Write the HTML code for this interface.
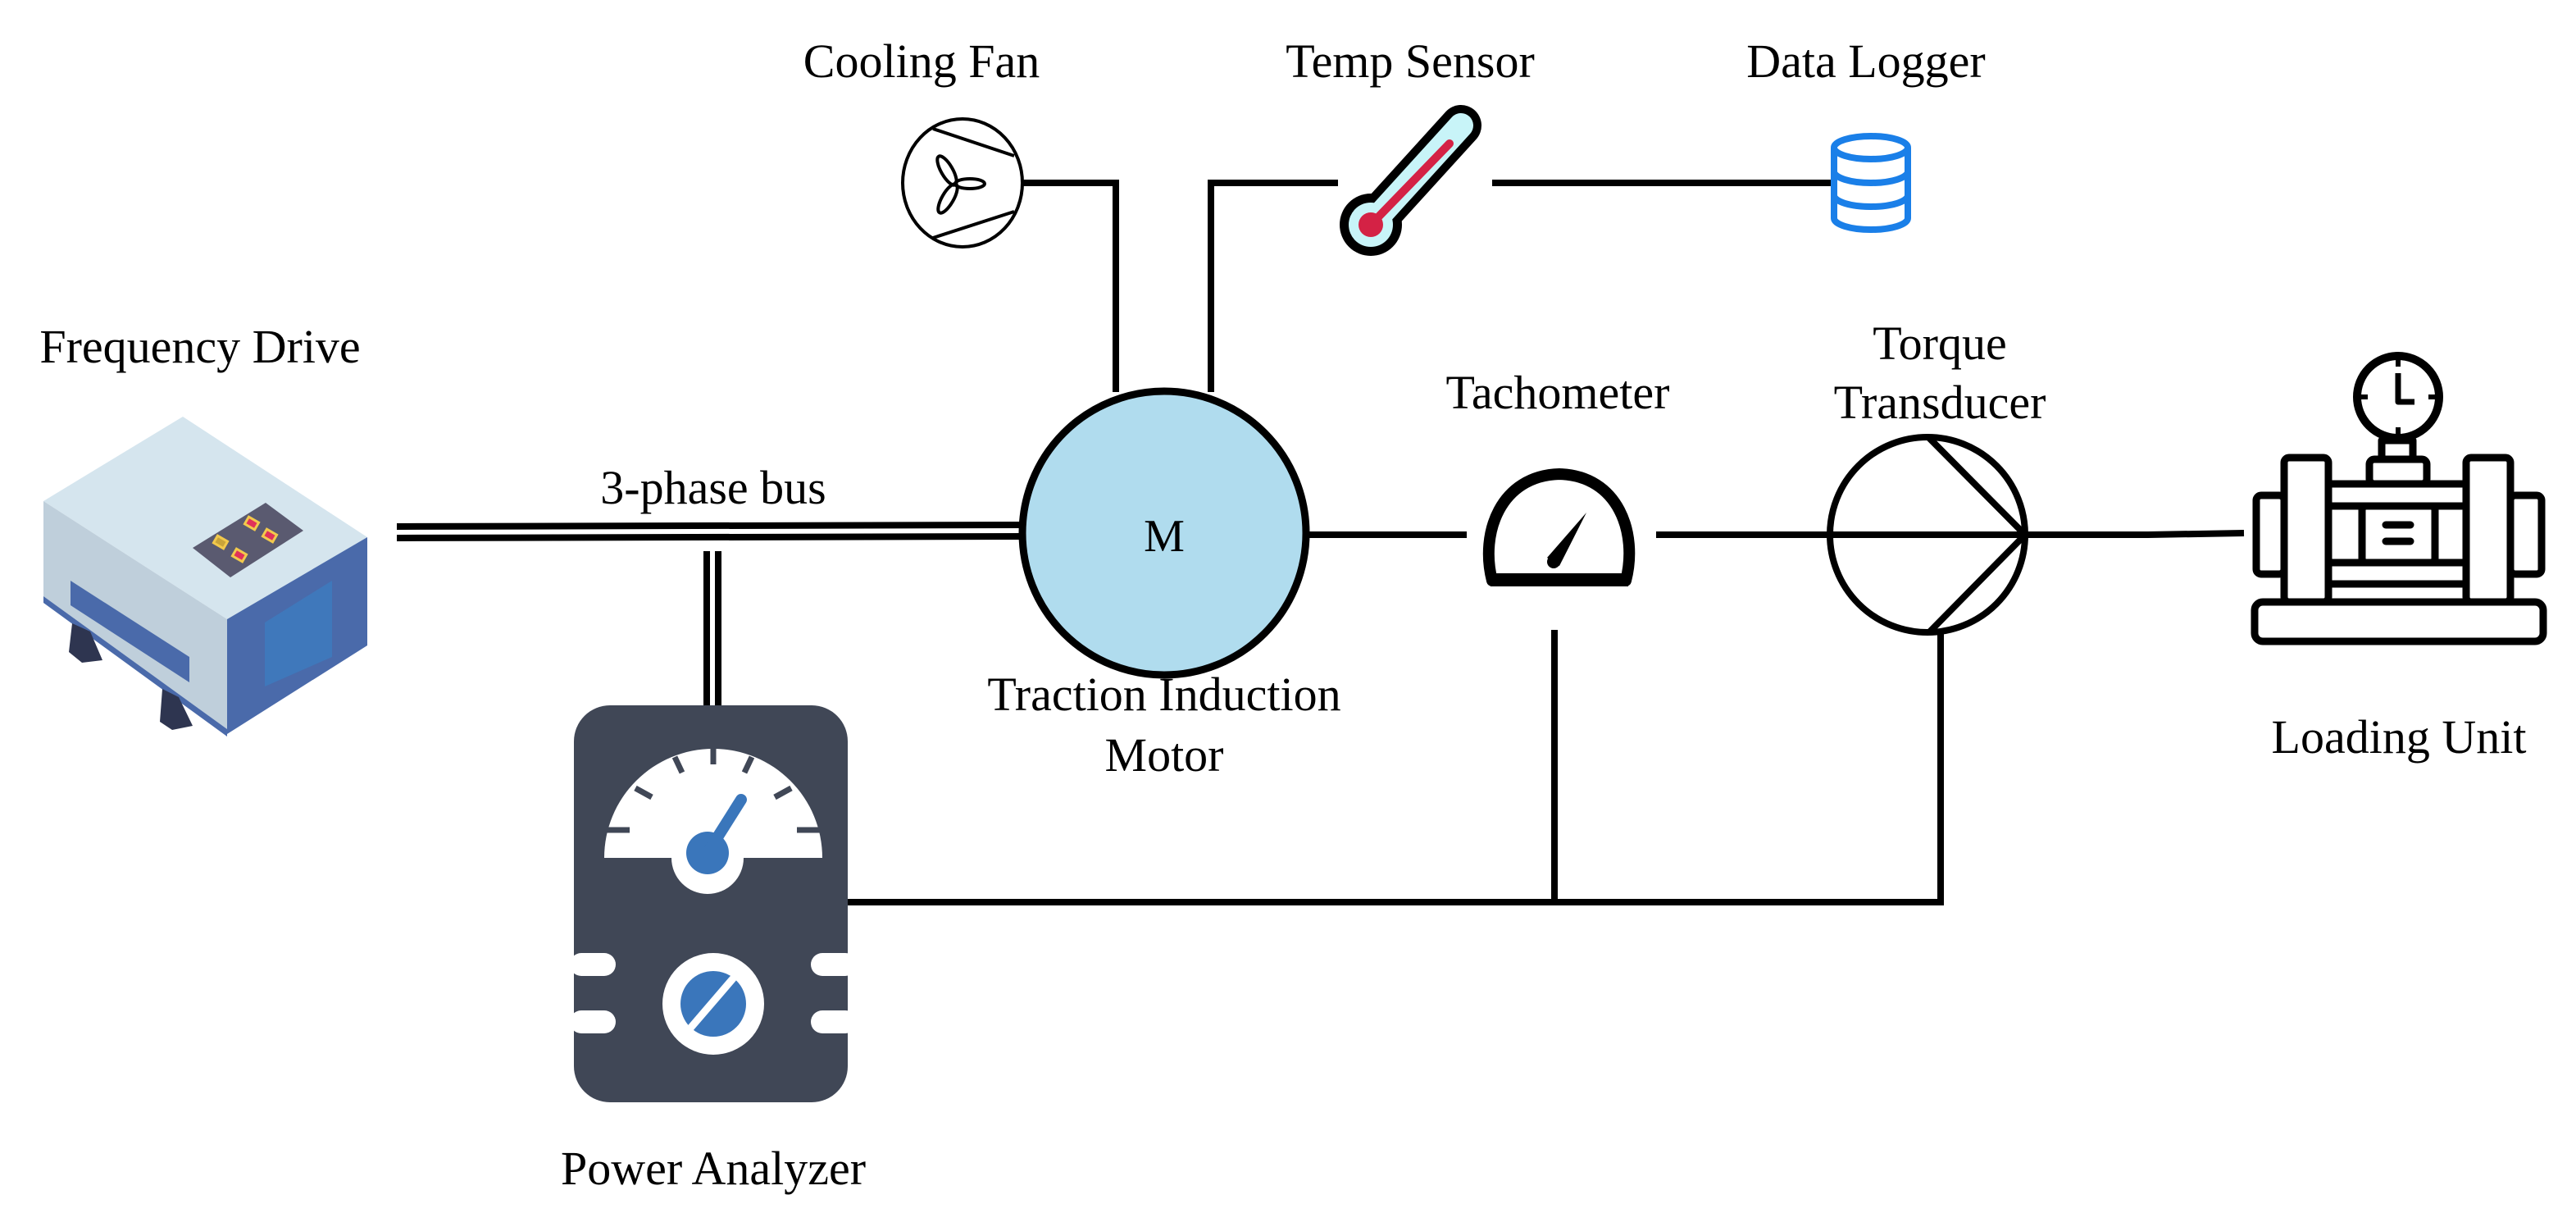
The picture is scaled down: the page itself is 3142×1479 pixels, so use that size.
<!DOCTYPE html>
<html><head><meta charset="utf-8"><style>
html,body{margin:0;padding:0;background:#fff}
svg{display:block}
text{font-family:"Liberation Serif",serif;font-size:58px;fill:#000;text-anchor:middle}
</style></head><body>
<svg width="3142" height="1479" viewBox="0 0 3142 1479" xmlns="http://www.w3.org/2000/svg">
<!-- connectors -->
<g stroke="#000" stroke-width="8" fill="none">
<line x1="484" y1="642" x2="1248" y2="640"/>
<line x1="484" y1="656" x2="1248" y2="654"/>
<line x1="862" y1="672" x2="862" y2="862"/>
<line x1="876" y1="672" x2="876" y2="862"/>
<polyline points="1246,223 1361,223 1361,478"/>
<polyline points="1477,478 1477,223 1632,223"/>
<line x1="1820" y1="223" x2="2236" y2="223"/>
<line x1="1593" y1="652" x2="1789" y2="652"/>
<line x1="2020" y1="652" x2="2470" y2="652"/>
<polyline points="2470,652 2620,652 2737,650"/>
<polyline points="1034,1100 2367,1100 2367,772"/>
<line x1="1896" y1="768" x2="1896" y2="1100"/>
</g>
<!-- motor -->
<circle cx="1420" cy="650" r="173" fill="#b0dcee" stroke="#000" stroke-width="9"/>
<text x="1420" y="672" style="font-size:56px">M</text>
<!-- torque transducer -->
<g stroke="#000" stroke-width="8" fill="none">
<circle cx="2351" cy="652" r="119"/>
<polyline points="2352,533 2470,652 2352,772"/>
</g>
<!-- cooling fan -->
<g stroke="#000" stroke-width="4" fill="none">
<ellipse cx="1174" cy="223" rx="73" ry="78"/>
<line x1="1138" y1="157" x2="1237" y2="190"/>
<line x1="1138" y1="290" x2="1237" y2="258"/>
<ellipse cx="1155" cy="208" rx="7" ry="20" transform="rotate(-30 1155 208)"/>
<ellipse cx="1183" cy="224" rx="18" ry="6"/>
<ellipse cx="1156" cy="242" rx="7" ry="20" transform="rotate(30 1156 242)"/>
</g>
<!-- thermometer -->
<g stroke-linecap="round">
<line x1="1672" y1="274" x2="1782" y2="153" stroke="#000" stroke-width="50"/>
<circle cx="1672" cy="274" r="38" fill="#000"/>
<line x1="1672" y1="274" x2="1782" y2="153" stroke="#c8f4f8" stroke-width="30"/>
<circle cx="1672" cy="274" r="27" fill="#c8f4f8"/>
<circle cx="1672" cy="274" r="15" fill="#d42245"/>
<line x1="1672" y1="274" x2="1768" y2="175" stroke="#d42245" stroke-width="10"/>
</g>
<!-- data logger -->
<g stroke="#1a7fe8" stroke-width="8" fill="none">
<ellipse cx="2282" cy="180" rx="45" ry="14"/>
<path d="M2237 180 V266 A45 14 0 0 0 2327 266 V180"/>
<path d="M2237 209 A45 14 0 0 0 2327 209"/>
<path d="M2237 238 A45 14 0 0 0 2327 238"/>
</g>
<!-- tachometer -->
<path d="M1820 708 C1805 650 1830 580 1902 578 C1974 580 1998 650 1983 708 Z" fill="#fff" stroke="#000" stroke-width="14" stroke-linejoin="round"/>
<line x1="1818" y1="707" x2="1986" y2="707" stroke="#000" stroke-width="16"/>
<path d="M1887 680 L1935 625 L1902 690 Z" fill="#000"/>
<circle cx="1895" cy="685" r="8" fill="#000"/>
<!-- loading unit -->
<g stroke="#000" stroke-width="9" fill="none" stroke-linejoin="round">
<circle cx="2925" cy="484" r="50" stroke-width="10"/>
<polyline points="2925,455 2925,490 2945,490" stroke-width="7"/>
<rect x="2905" y="537" width="38" height="23"/>
<rect x="2890" y="560" width="70" height="30" rx="6"/>
<rect x="2786" y="558" width="54" height="176" rx="6"/>
<rect x="3008" y="558" width="54" height="176" rx="6"/>
<rect x="2752" y="604" width="34" height="96" rx="6"/>
<rect x="3062" y="604" width="38" height="96" rx="6"/>
<line x1="2840" y1="590" x2="3008" y2="590"/>
<line x1="2840" y1="617" x2="3008" y2="617"/>
<line x1="2840" y1="686" x2="3008" y2="686"/>
<line x1="2840" y1="712" x2="3008" y2="712"/>
<rect x="2881" y="617" width="89" height="69" rx="5" fill="#fff"/>
<line x1="2910" y1="640" x2="2940" y2="640" stroke-linecap="round"/>
<line x1="2910" y1="660" x2="2940" y2="660" stroke-linecap="round"/>
<rect x="2750" y="734" width="352" height="48" rx="10"/>
</g>
<g stroke="#000" stroke-width="6">
<line x1="2925" y1="437" x2="2925" y2="447"/><line x1="2925" y1="521" x2="2925" y2="531"/>
<line x1="2878" y1="484" x2="2888" y2="484"/><line x1="2962" y1="484" x2="2972" y2="484"/>
</g>
<!-- frequency drive -->
<polygon points="53,611 223,508 448,655 277,755" fill="#d5e5ee"/>
<polygon points="53,611 277,755 277,889 53,727" fill="#bfcfdb"/>
<polygon points="53,727 277,889 277,898 53,735" fill="#4a6aaa"/>
<polygon points="277,755 448,655 448,787 277,895" fill="#4a6aaa"/>
<polygon points="323,759 405,708 405,801 323,837" fill="#3f78bb"/>
<polygon points="235,668 324,613 370,647 281,704" fill="#5a5a70"/>
<g stroke="#f2c94c" stroke-width="3">
<rect x="300" y="633" width="14" height="10" fill="#e0325a" transform="rotate(30 307 638)"/>
<rect x="322" y="648" width="14" height="10" fill="#e0325a" transform="rotate(30 329 653)"/>
<rect x="262" y="656" width="14" height="10" fill="#c9a43a" transform="rotate(30 269 661)"/>
<rect x="285" y="672" width="14" height="10" fill="#e0325a" transform="rotate(30 292 677)"/>
</g>
<polygon points="86,708 231,801 231,832 86,738" fill="#4a6aaa"/>
<polygon points="88,760 110,770 125,805 100,808 84,795" fill="#2e3550"/>
<polygon points="198,840 218,850 235,885 210,890 195,880" fill="#2e3550"/>
<!-- power analyzer -->
<rect x="700" y="860" width="334" height="484" rx="44" fill="#404756"/>
<path d="M737 1046 A133 133 0 0 1 1003 1046 Z" fill="#fff"/>
<g stroke="#404756" stroke-width="7">
<line x1="740" y1="1012" x2="768" y2="1012"/><line x1="972" y1="1012" x2="1000" y2="1012"/>
<line x1="775" y1="961" x2="795" y2="972"/><line x1="965" y1="961" x2="945" y2="972"/>
<line x1="823" y1="923" x2="832" y2="942"/><line x1="917" y1="923" x2="908" y2="942"/>
<line x1="870" y1="913" x2="870" y2="932"/>
</g>
<circle cx="863" cy="1046" r="44" fill="#fff"/>
<circle cx="863" cy="1040" r="26" fill="#3a76bb"/>
<line x1="863" y1="1040" x2="904" y2="975" stroke="#3a76bb" stroke-width="14" stroke-linecap="round"/>
<circle cx="870" cy="1224" r="62" fill="#fff"/>
<circle cx="870" cy="1224" r="40" fill="#3a76bb"/>
<line x1="840" y1="1256" x2="895" y2="1192" stroke="#fff" stroke-width="9"/>
<g fill="#fff">
<rect x="695" y="1162" width="56" height="28" rx="14"/><rect x="695" y="1232" width="56" height="28" rx="14"/>
<rect x="989" y="1162" width="56" height="28" rx="14"/><rect x="989" y="1232" width="56" height="28" rx="14"/>
</g>
<!-- labels -->
<text x="244" y="442">Frequency Drive</text>
<text x="870" y="614">3-phase bus</text>
<text x="870" y="1444">Power Analyzer</text>
<text x="1124" y="94">Cooling Fan</text>
<text x="1720" y="94">Temp Sensor</text>
<text x="2276" y="94">Data Logger</text>
<text x="1420" y="866">Traction Induction</text>
<text x="1420" y="940">Motor</text>
<text x="1900" y="498">Tachometer</text>
<text x="2366" y="438">Torque</text>
<text x="2366" y="510">Transducer</text>
<text x="2926" y="918">Loading Unit</text>
</svg>
</body></html>
